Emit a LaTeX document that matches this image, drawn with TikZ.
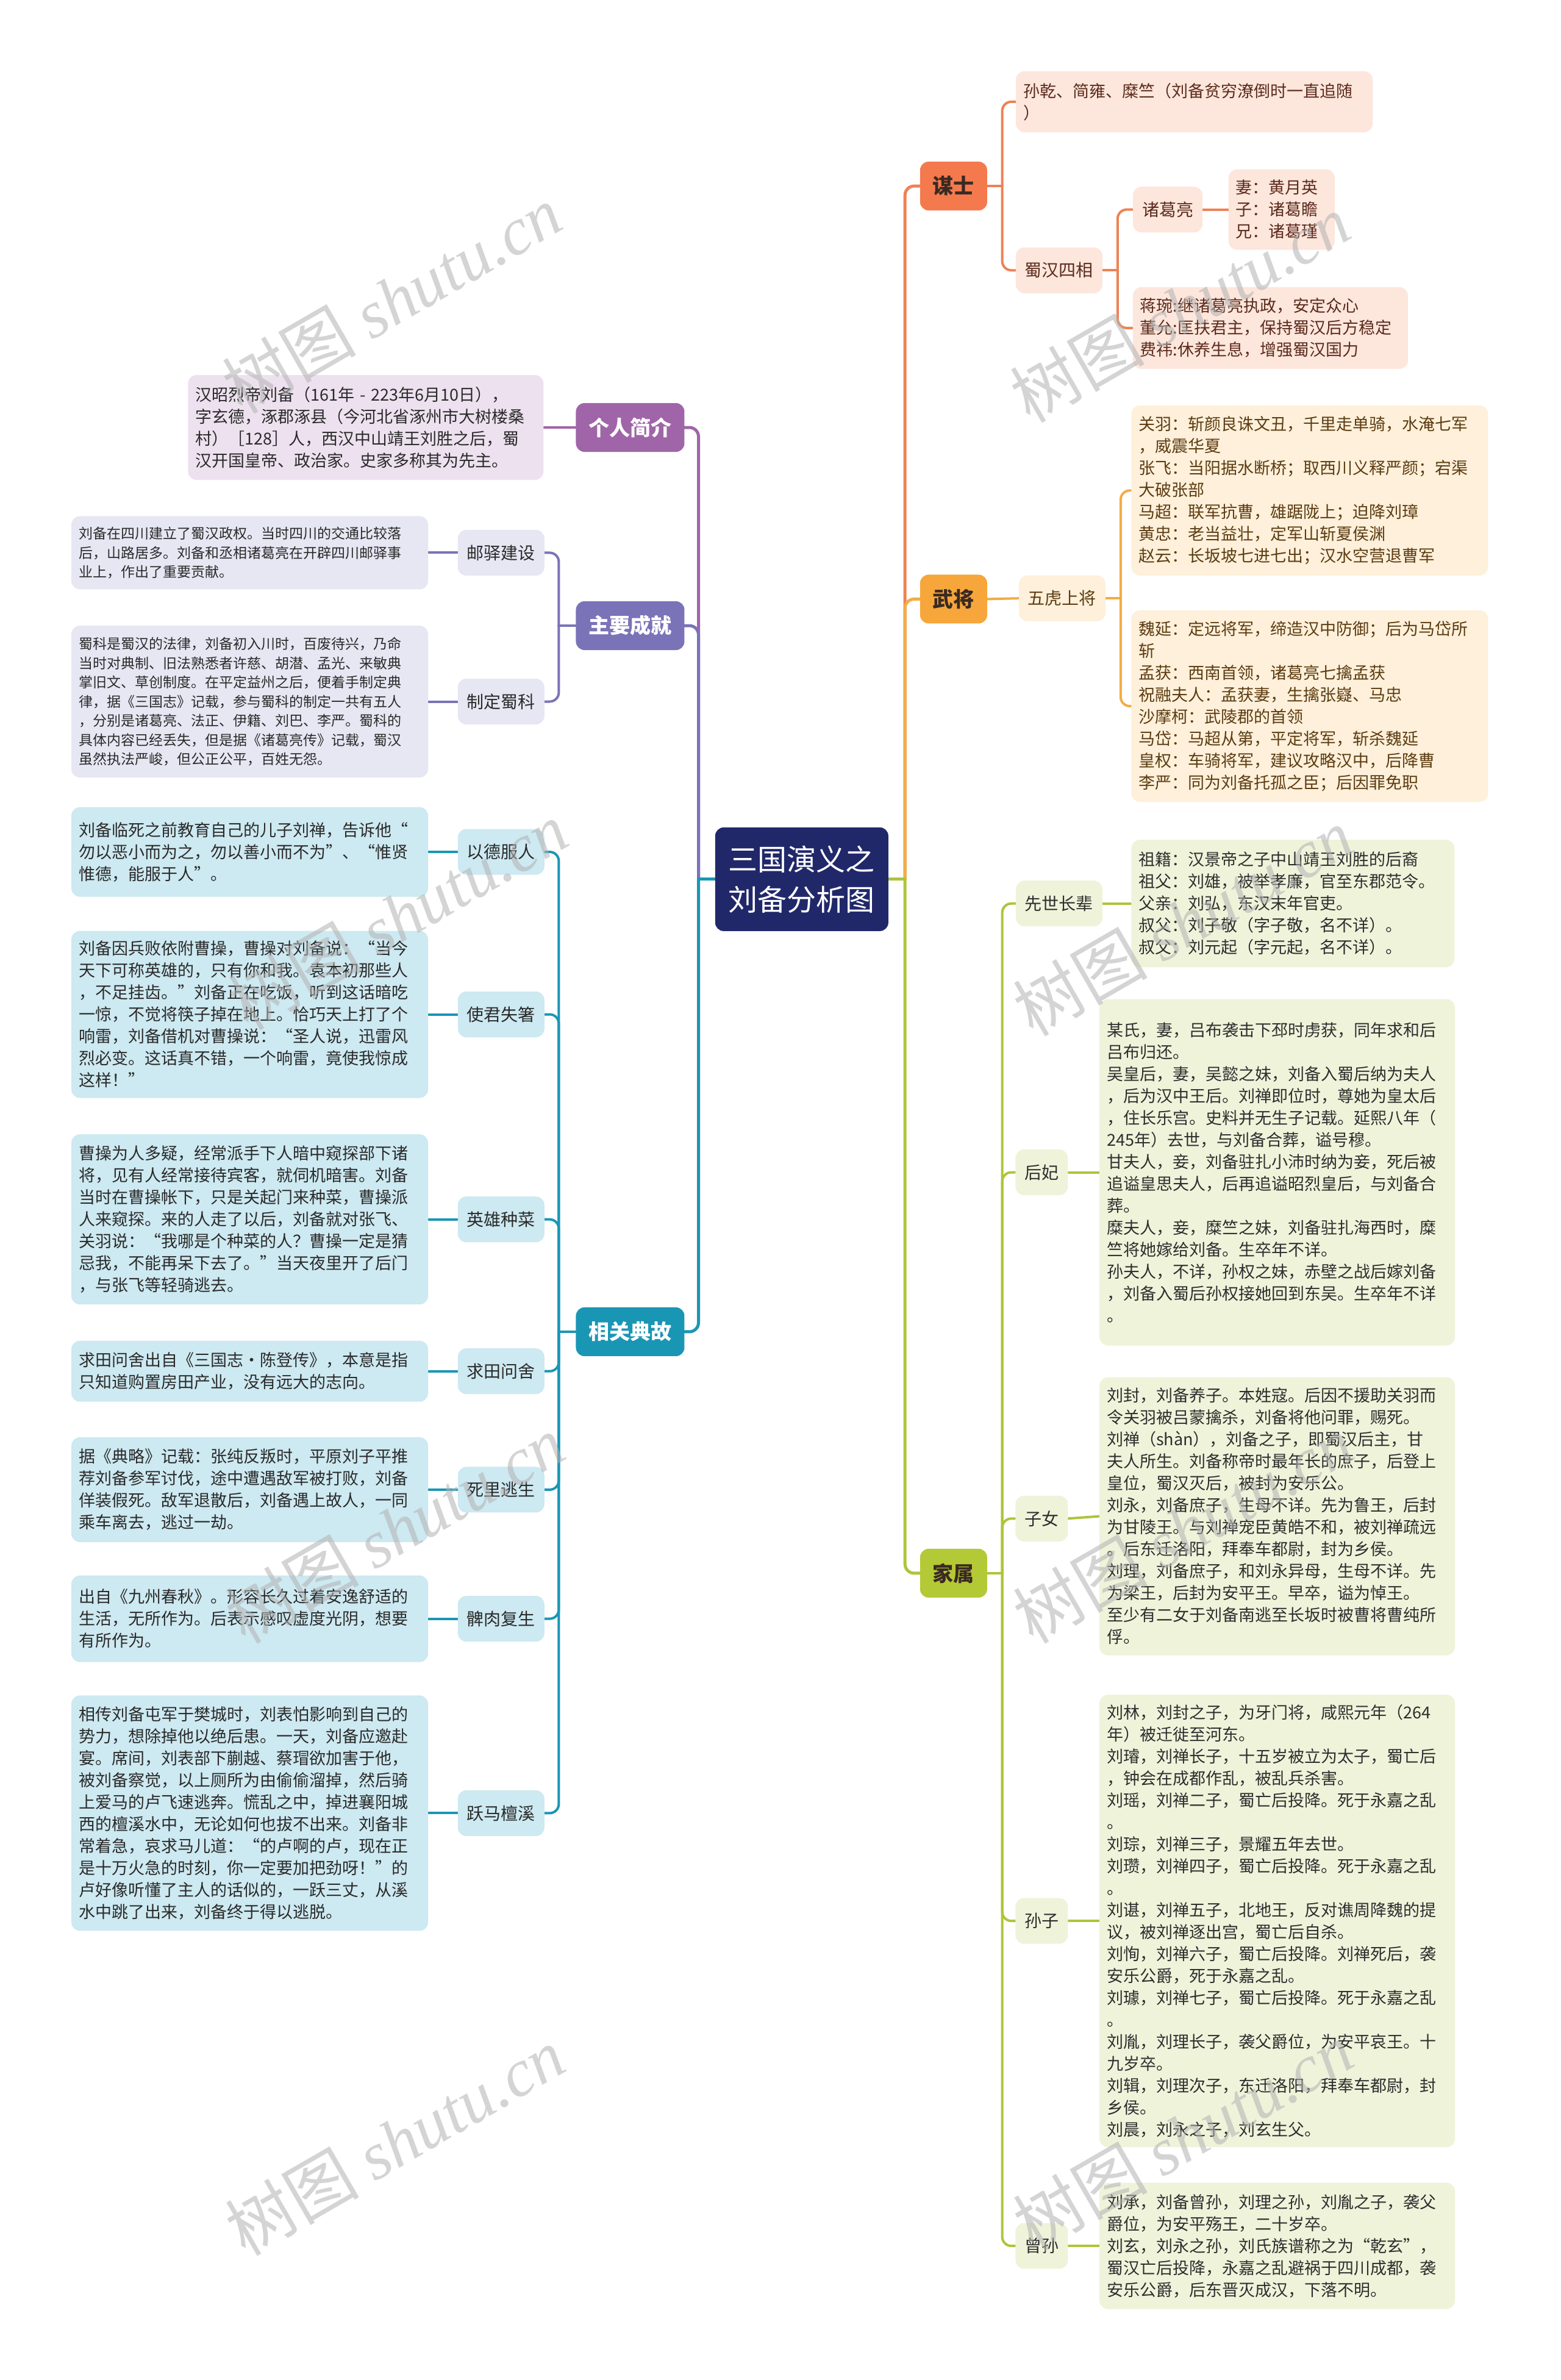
\documentclass[tikz,border=0pt]{standalone}
\usepackage{fontspec}
\setmainfont{Noto Sans CJK SC}
\newfontfamily\wmlatin{Liberation Serif}
\usetikzlibrary{backgrounds}
\definecolor{rootc}{HTML}{21286A}
\definecolor{msM}{HTML}{F47A4E}\definecolor{msL}{HTML}{EE8255}\definecolor{msF}{HTML}{FDE6DC}\definecolor{msT}{HTML}{5B2B1C}
\definecolor{wjM}{HTML}{F6A63A}\definecolor{wjL}{HTML}{F3AC45}\definecolor{wjF}{HTML}{FEF0DA}\definecolor{wjT}{HTML}{5C3C12}
\definecolor{jsM}{HTML}{B4C936}\definecolor{jsL}{HTML}{AEC43A}\definecolor{jsF}{HTML}{EFF3DA}\definecolor{jsT}{HTML}{2E2E2E}
\definecolor{inM}{HTML}{A065A8}\definecolor{inF}{HTML}{EDE1EF}
\definecolor{cjM}{HTML}{7A73B8}\definecolor{cjF}{HTML}{E7E6F3}
\definecolor{dgM}{HTML}{1A96B5}\definecolor{dgF}{HTML}{CDE9F1}
\definecolor{darkT}{HTML}{2A2A2A}
\definecolor{mainT}{HTML}{3A2A22}
\begin{document}
\begin{tikzpicture}[x=2.4903pt,y=-2.4903pt,
  root/.style={fill=rootc,text=white,rounded corners=14pt,minimum width=284pt,minimum height=170pt,align=center,inner sep=0pt,font=\fontsize{48}{66}\selectfont},
  mainn/.style={rounded corners=14pt,minimum height=80pt,inner xsep=21pt,inner ysep=0pt,font=\fontsize{34}{40}\selectfont\bfseries},
  subn/.style={rounded corners=14pt,minimum height=75pt,inner xsep=15pt,inner ysep=0pt,font=\fontsize{28}{34}\selectfont},
  leaf/.style={rounded corners=14pt,inner xsep=12pt,inner ysep=10pt,align=left,font=\fontsize{27}{36}\selectfont},
  leafs/.style={rounded corners=14pt,inner xsep=12pt,inner ysep=10pt,align=left,font=\fontsize{23}{31.5}\selectfont},
  brl/.style={line width=5pt,line cap=round},
  sbl/.style={line width=4pt,line cap=round},
  rc/.style={rounded corners=15pt},
  wm/.style={rotate=30,text=black!30,opacity=0.55,font=\fontsize{110}{110}\selectfont,inner sep=0pt}
]
\begin{scope}[on background layer]
\fill[white] (0,0) rectangle (1028,1567.3);
\end{scope}
\useasboundingbox (0,0) rectangle (1028,1567.3);

% root
\node[root] (root) at (528,579) {三国演义之\\刘备分析图};

% main nodes
\node[mainn,fill=inM,text=white] (intro) at (415,281.5) {个人简介};
\node[mainn,fill=cjM,text=white] (cj) at (415,412) {主要成就};
\node[mainn,fill=dgM,text=white] (dg) at (415,877) {相关典故};
\node[mainn,fill=msM,text=mainT] (ms) at (628,122.5) {谋士};
\node[mainn,fill=wjM,text=mainT] (wj) at (628,394.5) {武将};
\node[mainn,fill=jsM,text=mainT] (js) at (628,1036) {家属};

% 谋士
\node[leaf,fill=msF,text=msT,text width=561pt,minimum height=100pt,anchor=west] (ms1) at (669,67) {孙乾、简雍、糜竺（刘备贫穷潦倒时一直追随\\）};
\node[subn,fill=msF,text=msT] (shsx) at (697.5,178) {蜀汉四相};
\node[subn,fill=msF,text=msT] (zgl) at (769,138) {诸葛亮};
\node[leaf,fill=msF,text=msT,text width=150pt,minimum height=132pt,anchor=west] (zglL) at (809,138) {妻：黄月英\\子：诸葛瞻\\兄：诸葛瑾};
\node[leaf,fill=msF,text=msT,text width=427pt,minimum height=134pt,anchor=west] (jw) at (746,216) {蒋琬:继诸葛亮执政，安定众心\\董允:匡扶君主，保持蜀汉后方稳定\\费祎:休养生息，增强蜀汉国力};

% 武将
\node[subn,fill=wjF,text=wjT] (wh) at (699.5,394) {五虎上将};
\node[leaf,fill=wjF,text=wjT,text width=561pt,minimum height=279pt,anchor=west] (wj1) at (745,323) {关羽：斩颜良诛文丑，千里走单骑，水淹七军\\，威震华夏\\张飞：当阳据水断桥；取西川义释严颜；宕渠\\大破张部\\马超：联军抗曹，雄踞陇上；迫降刘璋\\黄忠：老当益壮，定军山斩夏侯渊\\赵云：长坂坡七进七出；汉水空营退曹军};
\node[leaf,fill=wjF,text=wjT,text width=561pt,minimum height=314pt,anchor=west] (wj2) at (745,465) {魏延：定远将军，缔造汉中防御；后为马岱所\\斩\\孟获：西南首领，诸葛亮七擒孟获\\祝融夫人：孟获妻，生擒张嶷、马忠\\沙摩柯：武陵郡的首领\\马岱：马超从第，平定将军，斩杀魏延\\皇权：车骑将军，建议攻略汉中，后降曹\\李严：同为刘备托孤之臣；后因罪免职};

% 家属
\node[subn,fill=jsF,text=jsT] (xs) at (697.5,595) {先世长辈};
\node[subn,fill=jsF,text=jsT] (hf) at (686,772) {后妃};
\node[subn,fill=jsF,text=jsT] (zn) at (686,1000) {子女};
\node[subn,fill=jsF,text=jsT] (sz) at (686,1265) {孙子};
\node[subn,fill=jsF,text=jsT] (zs) at (686,1479) {曾孙};
\node[leaf,fill=jsF,text=jsT,text width=506pt,minimum height=209pt,anchor=west] (xsL) at (745,595) {祖籍：汉景帝之子中山靖王刘胜的后裔\\祖父：刘雄，被举孝廉，官至东郡范令。\\父亲：刘弘，东汉末年官吏。\\叔父：刘子敬（字子敬，名不详）。\\叔父：刘元起（字元起，名不详）。};
\node[leaf,fill=jsF,text=jsT,text width=559pt,minimum height=568pt,anchor=west] (hfL) at (724,772) {某氏，妻，吕布袭击下邳时虏获，同年求和后\\吕布归还。\\吴皇后，妻，吴懿之妹，刘备入蜀后纳为夫人\\，后为汉中王后。刘禅即位时，尊她为皇太后\\，住长乐宫。史料并无生子记载。延熙八年（\\245年）去世，与刘备合葬，谥号穆。\\甘夫人，妾，刘备驻扎小沛时纳为妾，死后被\\追谥皇思夫人，后再追谥昭烈皇后，与刘备合\\葬。\\糜夫人，妾，糜竺之妹，刘备驻扎海西时，糜\\竺将她嫁给刘备。生卒年不详。\\孙夫人，不详，孙权之妹，赤壁之战后嫁刘备\\，刘备入蜀后孙权接她回到东吴。生卒年不详\\。};
\node[leaf,fill=jsF,text=jsT,text width=559pt,minimum height=456pt,anchor=west] (znL) at (724,998.5) {刘封，刘备养子。本姓寇。后因不援助关羽而\\令关羽被吕蒙擒杀，刘备将他问罪，赐死。\\刘禅（shàn），刘备之子，即蜀汉后主，甘\\夫人所生。刘备称帝时最年长的庶子，后登上\\皇位，蜀汉灭后，被封为安乐公。\\刘永，刘备庶子，生母不详。先为鲁王，后封\\为甘陵王。与刘禅宠臣黄皓不和，被刘禅疏远\\。后东迁洛阳，拜奉车都尉，封为乡侯。\\刘理，刘备庶子，和刘永异母，生母不详。先\\为梁王，后封为安平王。早卒，谥为悼王。\\至少有二女于刘备南逃至长坂时被曹将曹纯所\\俘。};
\node[leaf,fill=jsF,text=jsT,text width=559pt,minimum height=742pt,anchor=west] (szL) at (724,1265) {刘林，刘封之子，为牙门将，咸熙元年（264\\年）被迁徙至河东。\\刘璿，刘禅长子，十五岁被立为太子，蜀亡后\\，钟会在成都作乱，被乱兵杀害。\\刘瑶，刘禅二子，蜀亡后投降。死于永嘉之乱\\。\\刘琮，刘禅三子，景耀五年去世。\\刘瓒，刘禅四子，蜀亡后投降。死于永嘉之乱\\。\\刘谌，刘禅五子，北地王，反对谯周降魏的提\\议，被刘禅逐出宫，蜀亡后自杀。\\刘恂，刘禅六子，蜀亡后投降。刘禅死后，袭\\安乐公爵，死于永嘉之乱。\\刘璩，刘禅七子，蜀亡后投降。死于永嘉之乱\\。\\刘胤，刘理长子，袭父爵位，为安平哀王。十\\九岁卒。\\刘辑，刘理次子，东迁洛阳，拜奉车都尉，封\\乡侯。\\刘晨，刘永之子，刘玄生父。};
\node[leaf,fill=jsF,text=jsT,text width=559pt,minimum height=207pt,anchor=west] (zsL) at (724,1479) {刘承，刘备曾孙，刘理之孙，刘胤之子，袭父\\爵位，为安平殇王，二十岁卒。\\刘玄，刘永之孙，刘氏族谱称之为“乾玄”，\\蜀汉亡后投降，永嘉之乱避祸于四川成都，袭\\安乐公爵，后东晋灭成汉，下落不明。};

% 个人简介
\node[leaf,fill=inF,text=darkT,text width=559pt,minimum height=172pt,anchor=east] (introL) at (358,281.5) {汉昭烈帝刘备（161年 - 223年6月10日），\\字玄德，涿郡涿县（今河北省涿州市大树楼桑\\村）［128］人，西汉中山靖王刘胜之后，蜀\\汉开国皇帝、政治家。史家多称其为先主。};

% 主要成就
\node[subn,fill=cjF,text=darkT] (yy) at (330,364) {邮驿建设};
\node[subn,fill=cjF,text=darkT] (zd) at (330,462) {制定蜀科};
\node[leafs,fill=cjF,text=darkT,text width=561pt,minimum height=120pt,anchor=east] (yyL) at (282,364) {刘备在四川建立了蜀汉政权。当时四川的交通比较落\\后，山路居多。刘备和丞相诸葛亮在开辟四川邮驿事\\业上，作出了重要贡献。};
\node[leafs,fill=cjF,text=darkT,text width=561pt,minimum height=249pt,anchor=east] (zdL) at (282,462) {蜀科是蜀汉的法律，刘备初入川时，百废待兴，乃命\\当时对典制、旧法熟悉者许慈、胡潜、孟光、来敏典\\掌旧文、草创制度。在平定益州之后，便着手制定典\\律，据《三国志》记载，参与蜀科的制定一共有五人\\，分别是诸葛亮、法正、伊籍、刘巴、李严。蜀科的\\具体内容已经丢失，但是据《诸葛亮传》记载，蜀汉\\虽然执法严峻，但公正公平，百姓无怨。};

% 相关典故
\node[subn,fill=dgF,text=darkT] (yd) at (330,561) {以德服人};
\node[subn,fill=dgF,text=darkT] (sj) at (330,668) {使君失箸};
\node[subn,fill=dgF,text=darkT] (yx) at (330,803) {英雄种菜};
\node[subn,fill=dgF,text=darkT] (qt) at (330,903) {求田问舍};
\node[subn,fill=dgF,text=darkT] (sl) at (330,981) {死里逃生};
\node[subn,fill=dgF,text=darkT] (br) at (330,1066) {髀肉复生};
\node[subn,fill=dgF,text=darkT] (ym) at (330,1194) {跃马檀溪};
\node[leaf,fill=dgF,text=darkT,text width=561pt,minimum height=147pt,anchor=east] (ydL) at (282,561) {刘备临死之前教育自己的儿子刘禅，告诉他“\\勿以恶小而为之，勿以善小而不为”、“惟贤\\惟德，能服于人”。};
\node[leaf,fill=dgF,text=darkT,text width=561pt,minimum height=274pt,anchor=east] (sjL) at (282,668) {刘备因兵败依附曹操，曹操对刘备说：“当今\\天下可称英雄的，只有你和我。袁本初那些人\\，不足挂齿。”刘备正在吃饭，听到这话暗吃\\一惊，不觉将筷子掉在地上。恰巧天上打了个\\响雷，刘备借机对曹操说：“圣人说，迅雷风\\烈必变。这话真不错，一个响雷，竟使我惊成\\这样！”};
\node[leaf,fill=dgF,text=darkT,text width=561pt,minimum height=279pt,anchor=east] (yxL) at (282,803) {曹操为人多疑，经常派手下人暗中窥探部下诸\\将，见有人经常接待宾客，就伺机暗害。刘备\\当时在曹操帐下，只是关起门来种菜，曹操派\\人来窥探。来的人走了以后，刘备就对张飞、\\关羽说：“我哪是个种菜的人？曹操一定是猜\\忌我，不能再呆下去了。”当天夜里开了后门\\，与张飞等轻骑逃去。};
\node[leaf,fill=dgF,text=darkT,text width=561pt,minimum height=100pt,anchor=east] (qtL) at (282,903) {求田问舍出自《三国志·陈登传》，本意是指\\只知道购置房田产业，没有远大的志向。};
\node[leaf,fill=dgF,text=darkT,text width=561pt,minimum height=172pt,anchor=east] (slL) at (282,981) {据《典略》记载：张纯反叛时，平原刘子平推\\荐刘备参军讨伐，途中遭遇敌军被打败，刘备\\佯装假死。敌军退散后，刘备遇上故人，一同\\乘车离去，逃过一劫。};
\node[leaf,fill=dgF,text=darkT,text width=561pt,minimum height=142pt,anchor=east] (brL) at (282,1066) {出自《九州春秋》。形容长久过着安逸舒适的\\生活，无所作为。后表示感叹虚度光阴，想要\\有所作为。};
\node[leaf,fill=dgF,text=darkT,text width=561pt,minimum height=386pt,anchor=east] (ymL) at (282,1194) {相传刘备屯军于樊城时，刘表怕影响到自己的\\势力，想除掉他以绝后患。一天，刘备应邀赴\\宴。席间，刘表部下蒯越、蔡瑁欲加害于他，\\被刘备察觉，以上厕所为由偷偷溜掉，然后骑\\上爱马的卢飞速逃奔。慌乱之中，掉进襄阳城\\西的檀溪水中，无论如何也拔不出来。刘备非\\常着急，哀求马儿道：“的卢啊的卢，现在正\\是十万火急的时刻，你一定要加把劲呀！”的\\卢好像听懂了主人的话似的，一跃三丈，从溪\\水中跳了出来，刘备终于得以逃脱。};

% connectors
\begin{scope}[on background layer]
% left main
\draw[brl,inM,rc] (460,579) -- (460,281.5) -- (intro.east);
\draw[brl,cjM,rc] (460,579) -- (460,412) -- (cj.east);
\draw[brl,dgM] (root.west) -- (460,579);
\draw[brl,dgM,rc] (460,579) -- (460,877) -- (dg.east);
% right main
\draw[brl,msL,rc] (596,579) -- (596,122.5) -- (ms.west);
\draw[brl,wjL,rc] (596,579) -- (596,394.5) -- (wj.west);
\draw[brl,jsL] (root.east) -- (596,579);
\draw[brl,jsL,rc] (596,579) -- (596,1036) -- (js.west);
% 谋士
\draw[sbl,msL] (ms.east) -- (660,122.5);
\draw[sbl,msL,rc] (660,122.5) -- (660,67) -- (ms1.west);
\draw[sbl,msL,rc] (660,122.5) -- (660,178) -- (shsx.west);
\draw[sbl,msL] (shsx.east) -- (736,178);
\draw[sbl,msL,rc] (736,178) -- (736,138) -- (zgl.west);
\draw[sbl,msL,rc] (736,178) -- (736,216) -- (jw.west);
\draw[sbl,msL] (zgl.east) -- (zglL.west);
% 武将
\draw[sbl,wjL] (wj.east) -- (wh.west);
\draw[sbl,wjL] (wh.east) -- (738,394);
\draw[sbl,wjL,rc] (738,394) -- (738,323) -- (wj1.west);
\draw[sbl,wjL,rc] (738,394) -- (738,465) -- (wj2.west);
% 家属
\draw[sbl,jsL] (js.east) -- (660,1036);
\draw[sbl,jsL,rc] (660,1036) -- (660,595) -- (xs.west);
\draw[sbl,jsL,rc] (660,1036) -- (660,772) -- (hf.west);
\draw[sbl,jsL,rc] (660,1036) -- (660,1000) -- (zn.west);
\draw[sbl,jsL,rc] (660,1036) -- (660,1265) -- (sz.west);
\draw[sbl,jsL,rc] (660,1036) -- (660,1479) -- (zs.west);
\draw[sbl,jsL] (xs.east) -- (xsL.west);
\draw[sbl,jsL] (hf.east) -- (hfL.west);
\draw[sbl,jsL] (zn.east) -- (znL.west);
\draw[sbl,jsL] (sz.east) -- (szL.west);
\draw[sbl,jsL] (zs.east) -- (zsL.west);
% 个人简介
\draw[sbl,inM] (intro.west) -- (introL.east);
% 主要成就
\draw[sbl,cjM] (cj.west) -- (368,412);
\draw[sbl,cjM,rc] (368,412) -- (368,364) -- (yy.east);
\draw[sbl,cjM,rc] (368,412) -- (368,462) -- (zd.east);
\draw[sbl,cjM] (yy.west) -- (yyL.east);
\draw[sbl,cjM] (zd.west) -- (zdL.east);
% 相关典故
\draw[sbl,dgM] (dg.west) -- (368,877);
\draw[sbl,dgM,rc] (368,877) -- (368,561) -- (yd.east);
\draw[sbl,dgM,rc] (368,877) -- (368,668) -- (sj.east);
\draw[sbl,dgM,rc] (368,877) -- (368,803) -- (yx.east);
\draw[sbl,dgM,rc] (368,877) -- (368,903) -- (qt.east);
\draw[sbl,dgM,rc] (368,877) -- (368,981) -- (sl.east);
\draw[sbl,dgM,rc] (368,877) -- (368,1066) -- (br.east);
\draw[sbl,dgM,rc] (368,877) -- (368,1194) -- (ym.east);
\draw[sbl,dgM] (yd.west) -- (ydL.east);
\draw[sbl,dgM] (sj.west) -- (sjL.east);
\draw[sbl,dgM] (yx.west) -- (yxL.east);
\draw[sbl,dgM] (qt.west) -- (qtL.east);
\draw[sbl,dgM] (sl.west) -- (slL.east);
\draw[sbl,dgM] (br.west) -- (brL.east);
\draw[sbl,dgM] (ym.west) -- (ymL.east);
\end{scope}

% watermarks
\foreach \p [count=\i] in {(258,197),(777,203),(262,603),(779,607),(260,1007),(779,1007),(260,1410),(779,1407)}{
  \node[wm] (wm\i) at \p {树图 {\wmlatin\itshape shutu.cn}};
}
\end{tikzpicture}
\end{document}
